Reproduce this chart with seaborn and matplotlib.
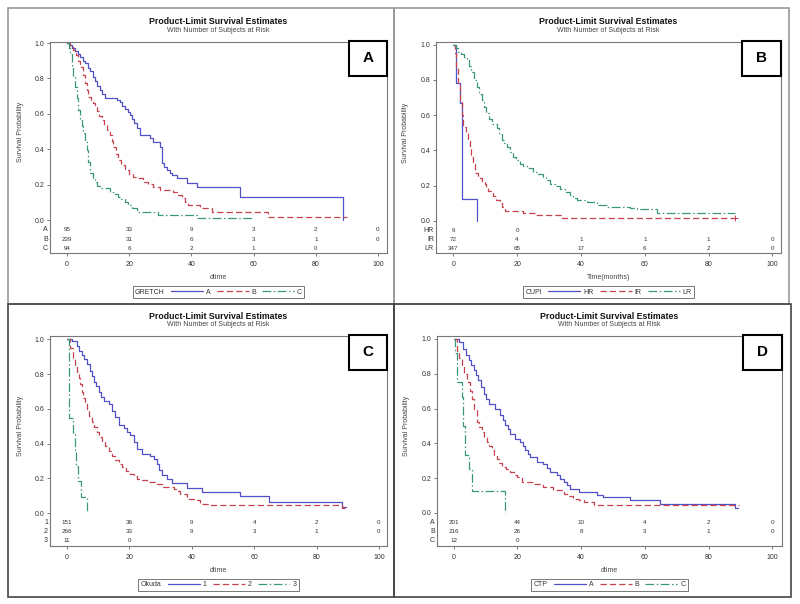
import pandas as pd
import matplotlib
matplotlib.use("Agg")
import matplotlib.pyplot as plt
import seaborn as sns
from matplotlib.lines import Line2D
from matplotlib.patches import Rectangle

sns.set_style("white")
plt.rcParams['font.family'] = ['Liberation Sans', 'DejaVu Sans']

# --- Panel A: GRETCH ---
gretch_groups = ['A', 'B', 'C']
gretch_A_t = [0, 0.8, 1.6, 2.5, 3.4, 4.2, 5.0, 5.8, 6.6, 7.4, 8.2, 9.0, 9.8, 10.6, 11.4, 12.2, 16.2, 17.0, 17.8,
              18.6, 19.5, 20.3, 21.0, 21.6, 22.4, 23.5, 26.8, 27.8, 29.9, 30.4, 31.2, 32.0, 33.0, 33.7, 35.3, 38.5,
              41.7, 55.6, 88.6]
gretch_A_s = [1.0, 0.99, 0.97, 0.955, 0.94, 0.92, 0.90, 0.885, 0.86, 0.84, 0.81, 0.785, 0.76, 0.735, 0.71, 0.69,
              0.68, 0.668, 0.645, 0.63, 0.612, 0.593, 0.57, 0.546, 0.518, 0.48, 0.465, 0.443, 0.414, 0.32, 0.30,
              0.282, 0.268, 0.254, 0.235, 0.21, 0.185, 0.132, 0.0]
gretch_B_t = [0, 1.0, 2.0, 2.8, 3.5, 4.2, 5.0, 5.8, 6.4, 6.9, 7.6, 8.3, 9.0, 9.7, 10.4, 11.1, 12.0, 12.8, 13.8, 14.4,
              14.9, 15.7, 16.5, 17.5, 18.6, 19.8, 21.3, 22.8, 24.5, 26.0, 27.8, 29.9, 34.2, 35.5, 36.9, 38.0, 39.0,
              42.8, 46.5, 64.7, 89.9]
gretch_B_s = [1.0, 0.98, 0.96, 0.93, 0.90, 0.866, 0.82, 0.772, 0.735, 0.697, 0.675, 0.66, 0.64, 0.615, 0.59, 0.565,
              0.535, 0.508, 0.48, 0.445, 0.414, 0.375, 0.339, 0.31, 0.282, 0.262, 0.245, 0.235, 0.217, 0.205, 0.188,
              0.169, 0.16, 0.14, 0.122, 0.10, 0.085, 0.066, 0.047, 0.019, 0.019]
gretch_C_t = [0, 0.5, 1.0, 1.5, 2.0, 2.6, 3.1, 3.6, 4.2, 4.8, 5.3, 5.8, 6.3, 6.8, 7.4, 8.2, 9.0, 9.8, 10.6, 13.8,
              15.0, 16.5, 17.5, 18.6, 19.7, 20.8, 22.4, 29.4, 41.7, 59.9]
gretch_C_s = [1.0, 0.97, 0.94, 0.87, 0.81, 0.753, 0.69, 0.62, 0.57, 0.53, 0.49, 0.44, 0.395, 0.33, 0.264, 0.24,
              0.217, 0.195, 0.179, 0.16, 0.145, 0.132, 0.118, 0.104, 0.085, 0.066, 0.047, 0.028, 0.009, 0.009]
gretch_risk_A = ['95', '33', '9', '3', '2', '0']
gretch_risk_B = ['239', '31', '6', '3', '1', '0']
gretch_risk_C = ['94', '6', '2', '1', '0']

# --- Panel B: CUPI ---
cupi_groups = ['HR', 'IR', 'LR']
cupi_HR_t = [0, 1.0, 2.1, 2.6, 7.4]
cupi_HR_s = [1.0, 0.78, 0.67, 0.125, 0.0]
cupi_IR_t = [0, 0.5, 1.0, 1.5, 2.1, 2.6, 3.1, 3.9, 4.7, 5.2, 5.7, 6.3, 6.8, 7.8, 8.9, 9.9, 10.4, 11.0, 12.5, 13.5,
             14.6, 15.4, 16.2, 22.0, 25.6, 34.0, 88.3]
cupi_IR_s = [1.0, 0.95, 0.87, 0.78, 0.68, 0.6, 0.53, 0.5, 0.46, 0.42, 0.36, 0.32, 0.27, 0.24, 0.22, 0.21, 0.19,
             0.167, 0.138, 0.12, 0.1, 0.08, 0.058, 0.045, 0.03, 0.013, 0.013]
cupi_LR_t = [0, 0.8, 1.6, 2.5, 3.3, 4.2, 5.0, 5.7, 6.5, 7.3, 8.1, 8.9, 9.7, 10.4, 11.2, 12.0, 13.6, 14.4, 15.2, 16.0,
             16.7, 17.8, 18.8, 19.8, 20.9, 22.0, 23.0, 25.1, 26.5, 28.2, 29.2, 30.3, 31.8, 33.4, 35.0, 36.6, 37.6,
             38.7, 41.8, 44.9, 48.1, 55.4, 57.5, 63.7, 88.3]
cupi_LR_s = [1.0, 0.98, 0.96, 0.945, 0.93, 0.91, 0.88, 0.845, 0.80, 0.76, 0.72, 0.684, 0.645, 0.61, 0.58, 0.55,
             0.524, 0.49, 0.457, 0.44, 0.42, 0.39, 0.363, 0.345, 0.325, 0.31, 0.297, 0.278, 0.265, 0.25, 0.23, 0.208,
             0.195, 0.183, 0.165, 0.146, 0.13, 0.117, 0.108, 0.089, 0.079, 0.07, 0.064, 0.042, 0.042]
cupi_risk_HR = ['9', '0']
cupi_risk_IR = ['72', '4', '1', '1', '1', '0']
cupi_risk_LR = ['347', '65', '17', '6', '2', '0']

# --- Panel C: Okuda ---
okuda_groups = ['1', '2', '3']
okuda_1_t = [0, 1.5, 3.1, 3.9, 4.7, 5.5, 6.3, 7.4, 8.0, 8.5, 9.3, 10.1, 10.9, 11.7, 13.3, 14.3, 15.4, 16.5, 18.1,
             19.2, 20.2, 21.3, 22.4, 24.0, 26.7, 27.7, 28.8, 29.6, 30.4, 32.0, 33.6, 38.4, 43.3, 55.6, 64.7, 88.2, 89.3]
okuda_1_s = [1.0, 0.99, 0.96, 0.935, 0.91, 0.885, 0.86, 0.82, 0.79, 0.756, 0.73, 0.70, 0.67, 0.644, 0.63, 0.59,
             0.554, 0.506, 0.49, 0.467, 0.448, 0.41, 0.371, 0.342, 0.33, 0.313, 0.285, 0.25, 0.217, 0.198, 0.173,
             0.144, 0.121, 0.096, 0.063, 0.033, 0.033]
okuda_2_t = [0, 1.0, 2.0, 2.6, 3.1, 3.7, 4.2, 4.7, 5.2, 5.8, 6.3, 7.1, 7.9, 8.7, 9.5, 10.3, 11.1, 12.2, 13.3, 14.3,
             15.4, 16.5, 17.6, 18.9, 20.2, 21.3, 22.4, 24.0, 25.6, 28.8, 30.9, 34.2, 35.3, 36.3, 38.4, 40.6, 42.7,
             45.9, 88.2, 89.3]
okuda_2_s = [1.0, 0.95, 0.89, 0.85, 0.813, 0.78, 0.746, 0.70, 0.66, 0.63, 0.60, 0.56, 0.525, 0.495, 0.467, 0.44,
             0.41, 0.385, 0.36, 0.33, 0.304, 0.285, 0.265, 0.245, 0.227, 0.212, 0.198, 0.188, 0.179, 0.169, 0.15,
             0.14, 0.126, 0.112, 0.083, 0.073, 0.054, 0.044, 0.029, 0.029]
okuda_3_t = [0, 0.7, 1.9, 2.5, 3.0, 3.5, 4.5, 6.4]
okuda_3_s = [1.0, 0.545, 0.455, 0.364, 0.273, 0.182, 0.091, 0.0]
okuda_risk_1 = ['151', '36', '9', '4', '2', '0']
okuda_risk_2 = ['266', '33', '9', '3', '1', '0']
okuda_risk_3 = ['11', '0']

# --- Panel D: CTP ---
ctp_groups = ['A', 'B', 'C']
ctp_A_t = [0, 1.6, 3.1, 3.9, 4.7, 5.5, 6.3, 7.0, 7.8, 8.6, 9.4, 10.2, 11.0, 13.1, 14.6, 15.4, 16.2, 17.0, 17.8,
           19.3, 20.9, 21.7, 22.5, 23.2, 24.0, 26.1, 28.2, 29.3, 30.3, 32.4, 33.5, 34.5, 35.6, 36.6, 39.2, 44.9,
           47.0, 55.4, 64.8, 88.3, 89.3]
ctp_A_s = [1.0, 0.98, 0.944, 0.91, 0.877, 0.85, 0.82, 0.79, 0.762, 0.725, 0.686, 0.655, 0.628, 0.60, 0.561, 0.535,
           0.504, 0.48, 0.456, 0.427, 0.408, 0.385, 0.36, 0.34, 0.322, 0.293, 0.284, 0.26, 0.236, 0.216, 0.197,
           0.178, 0.16, 0.14, 0.121, 0.102, 0.092, 0.073, 0.054, 0.029, 0.029]
ctp_B_t = [0, 1.0, 1.8, 2.6, 3.4, 4.2, 5.0, 5.7, 6.5, 7.3, 8.1, 8.9, 9.6, 10.4, 11.2, 12.0, 12.8, 13.6, 14.4, 15.2,
           16.5, 17.8, 18.8, 19.9, 21.4, 25.1, 28.2, 31.3, 34.5, 36.0, 37.6, 39.2, 40.8, 43.9, 89.5]
ctp_B_s = [1.0, 0.925, 0.89, 0.849, 0.80, 0.753, 0.70, 0.657, 0.59, 0.523, 0.495, 0.466, 0.437, 0.408, 0.385, 0.36,
           0.335, 0.312, 0.288, 0.264, 0.25, 0.236, 0.22, 0.207, 0.178, 0.169, 0.149, 0.13, 0.111, 0.095, 0.082,
           0.072, 0.063, 0.048, 0.048]
ctp_C_t = [0, 0.5, 1.1, 2.6, 3.0, 3.7, 4.8, 5.8, 16.2]
ctp_C_s = [1.0, 0.917, 0.75, 0.667, 0.5, 0.333, 0.25, 0.125, 0.0]
ctp_risk_A = ['201', '44', '10', '4', '2', '0']
ctp_risk_B = ['216', '26', '8', '3', '1', '0']
ctp_risk_C = ['12', '0']

risk_times = [0, 20, 40, 60, 80, 100]
colors = ['#5050c8', '#c8424e', '#3a9878']
dash_list = ['', (5, 2.5), (7, 2, 1.2, 2)]


def px_box(l, t, r, b):
    return [l / 800, 1 - b / 604, (r - l) / 800, (b - t) / 604]


def draw_panel(ax, letter, var, groups, times, survs, risks, xlabel, xlim, ylim):
    frames = [pd.DataFrame({'time': t, 'surv': s, 'group': g}) for g, t, s in zip(groups, times, survs)]
    df = pd.concat(frames, ignore_index=True)
    sns.lineplot(data=df, x='time', y='surv', hue='group', style='group',
                 palette=dict(zip(groups, colors)), dashes=dict(zip(groups, dash_list)),
                 drawstyle='steps-post', estimator=None, sort=False, legend=False,
                 linewidth=0.9, ax=ax)
    ax.set_xlim(*xlim)
    ax.set_ylim(*ylim)
    ax.set_xticks(risk_times)
    ax.set_yticks([0, 0.2, 0.4, 0.6, 0.8, 1.0])
    ax.set_yticklabels(['0.0', '0.2', '0.4', '0.6', '0.8', '1.0'])
    ax.tick_params(direction='out', length=2.5, width=0.6, color='#666', labelsize=5,
                   labelcolor='#333', bottom=True, left=True)
    ax.tick_params(axis='x', pad=3)
    ax.tick_params(axis='y', pad=1.5)
    ax.set_xlabel('')
    ax.set_ylabel('')
    for sp in ax.spines.values():
        sp.set_color('#777')
        sp.set_linewidth(0.8)

    # titles
    ax.text(0.5, 1.095, 'Product-Limit Survival Estimates', transform=ax.transAxes,
            ha='center', va='center', fontsize=6.3, fontweight='bold', color='#111')
    ax.text(0.5, 1.055, 'With Number of Subjects at Risk', transform=ax.transAxes,
            ha='center', va='center', fontsize=5, color='#444')

    # axis labels
    ax.text(-0.088, (0 - ylim[0]) / (ylim[1] - ylim[0]) + 0.5 / (ylim[1] - ylim[0]), 'Survival Probability',
            transform=ax.transAxes, rotation=90, ha='center', va='center', fontsize=5, color='#444')
    ax.text(0.5, -0.115, xlabel, transform=ax.transAxes, ha='center', va='center',
            fontsize=5, color='#444')

    # at-risk table
    trans = ax.get_yaxis_transform()
    for i, (g, r) in enumerate(zip(groups, risks)):
        yrow = -0.055 - 0.052 * i
        ax.text(-0.006, yrow, g, transform=trans, ha='right', va='center', fontsize=5, color='#333')
        for tt, val in zip(risk_times, r):
            ax.text(tt, yrow, val, ha='center', va='center', fontsize=4.5, color='#333')

    # letter box
    ax.add_patch(Rectangle((0.888, 0.838), 0.112, 0.168, transform=ax.transAxes, fill=True,
                           facecolor='white', edgecolor='black', linewidth=1.5, clip_on=False, zorder=5))
    ax.text(0.944, 0.922, letter, transform=ax.transAxes, ha='center', va='center',
            fontsize=11, fontweight='bold', color='black', zorder=6)

    # legend with the variable name on the left
    handles = [Line2D([], [], color=c, dashes=d if d else (None, None), linewidth=0.9)
               for c, d in zip(colors, dash_list)]
    handles[0].set_linestyle('-')
    leg = ax.legend(handles, groups, title=var, ncol=3, loc='center', bbox_to_anchor=(0.5, -0.185),
                    fontsize=5, title_fontsize=5, frameon=True, fancybox=False, edgecolor='#555',
                    handlelength=4.6, columnspacing=0.9, handletextpad=0.4, borderpad=0.35,
                    borderaxespad=0)
    leg.get_frame().set_linewidth(0.7)
    plt.setp(leg.get_texts(), color='#333')
    leg.get_title().set_color('#333')
    vp = leg.get_children()[0]
    title_box, handle_box = vp.get_children()
    vp._children = [handle_box]
    handle_box._children = [title_box] + handle_box.get_children()


fig = plt.figure(figsize=(8, 6.04), dpi=100)

axA = fig.add_axes(px_box(50, 42, 387, 253))
axB = fig.add_axes(px_box(436, 42, 781, 253))
axC = fig.add_axes(px_box(50, 336, 387, 546))
axD = fig.add_axes(px_box(437, 336, 782, 546))

draw_panel(axA, 'A', 'GRETCH', gretch_groups,
           [gretch_A_t, gretch_B_t, gretch_C_t], [gretch_A_s, gretch_B_s, gretch_C_s],
           [gretch_risk_A, gretch_risk_B, gretch_risk_C], 'dtime', (-5.47, 102.9), (-0.186, 1.006))
draw_panel(axB, 'B', 'CUPI', cupi_groups,
           [cupi_HR_t, cupi_IR_t, cupi_LR_t], [cupi_HR_s, cupi_IR_s, cupi_LR_s],
           [cupi_risk_HR, cupi_risk_IR, cupi_risk_LR], 'Time(months)', (-5.4, 102.7), (-0.183, 1.015))
draw_panel(axC, 'C', 'Okuda', okuda_groups,
           [okuda_1_t, okuda_2_t, okuda_3_t], [okuda_1_s, okuda_2_s, okuda_3_s],
           [okuda_risk_1, okuda_risk_2, okuda_risk_3], 'dtime', (-5.5, 102.6), (-0.19, 1.02))
draw_panel(axD, 'D', 'CTP', ctp_groups,
           [ctp_A_t, ctp_B_t, ctp_C_t], [ctp_A_s, ctp_B_s, ctp_C_s],
           [ctp_risk_A, ctp_risk_B, ctp_risk_C], 'dtime', (-5.2, 103.0), (-0.19, 1.017))

# censored end marks
axB.plot([cupi_IR_t[-1]], [cupi_IR_s[-1]], marker='+', color=colors[1], markersize=4, mew=0.7)

# panel borders
for (l, t, r, b), ec in [((8, 8, 394, 304), '#999'), ((394, 8, 789, 304), '#999'),
                         ((8, 304, 394, 597), '#444'), ((394, 304, 791, 597), '#444')]:
    fig.add_artist(Rectangle((l / 800, 1 - b / 604), (r - l) / 800, (b - t) / 604,
                             transform=fig.transFigure, fill=False, edgecolor=ec, linewidth=1.2))

fig.savefig('out.png', dpi=100)
